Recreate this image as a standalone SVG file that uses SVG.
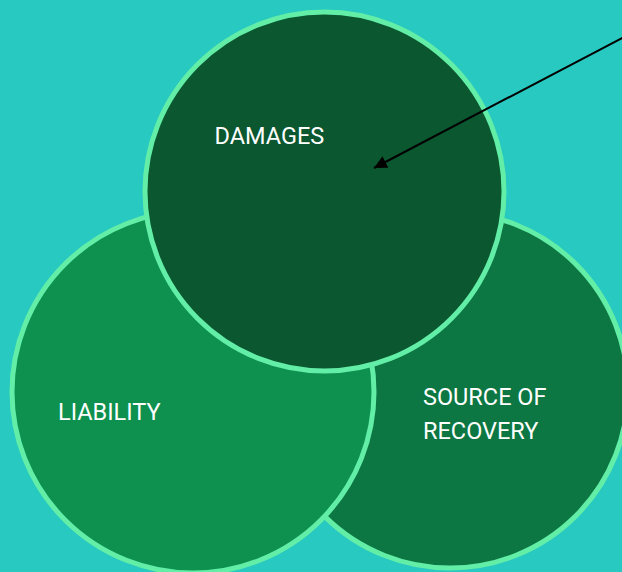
<svg xmlns="http://www.w3.org/2000/svg" width="622" height="572" viewBox="0 0 622 572">
<style>
.c{stroke:#62EEA6;stroke-width:5}
.t{font-family:Roboto,"Liberation Sans",sans-serif;font-size:23.5px;fill:#FFFFFF}
</style>
<defs>
<marker id="ah" markerUnits="userSpaceOnUse" markerWidth="14" markerHeight="14" refX="13" refY="6.5" orient="auto">
<path d="M0,0 L13,6.5 L0,13 z" fill="#000000"/>
</marker>
</defs>
<rect x="0" y="0" width="622" height="572" fill="#27C9C0"/>
<g id="source">
<circle class="c" cx="450" cy="390" r="178" fill="#0C7742"/>
<text class="t" x="423" y="404.5">SOURCE OF</text>
<text class="t" x="423" y="438.5">RECOVERY</text>
</g>
<g id="liability">
<circle class="c" cx="193" cy="392" r="181" fill="#0E914F"/>
<text class="t" x="58" y="420">LIABILITY</text>
</g>
<g id="damages">
<circle class="c" cx="324.5" cy="191.5" r="179.5" fill="#0A5730"/>
<text class="t" x="214.5" y="143.5">DAMAGES</text>
</g>
<g id="connectors">
<line x1="640" y1="28.6" x2="374" y2="168" stroke="#000000" stroke-width="2" marker-end="url(#ah)"/>
</g>
</svg>
